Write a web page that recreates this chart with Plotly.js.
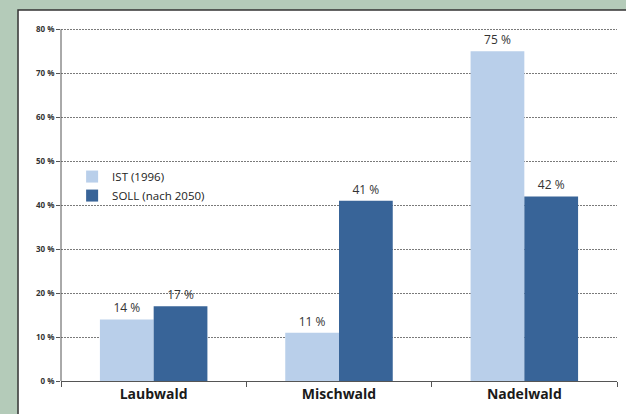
<!DOCTYPE html>
<html>
<head>
<meta charset="utf-8">
<script src="https://cdn.plot.ly/plotly-3.0.1.min.js"></script>
<style>html,body{margin:0;padding:0;background:#b4cbb9;}#chart{width:626px;height:414px;}</style>
</head>
<body>
<div id="chart"></div>
<script>
const categories = ["Laubwald", "Mischwald", "Nadelwald"];
const seriesNames = ["IST (1996)", "SOLL (nach 2050)"];
const istValues = [14, 11, 75];
const sollValues = [17, 41, 42];
const yTickValues = [0, 10, 20, 30, 40, 50, 60, 70, 80];
const yTickLabels = ["0 %", "10 %", "20 %", "30 %", "40 %", "50 %", "60 %", "70 %", "80 %"];

const FONT = "'Open Sans', 'Noto Sans', sans-serif";
const labelFont = {family: FONT, size: 12, color: "#333"};
const traces = [
  {type: "bar", name: seriesNames[0], x: categories, y: istValues,
   text: istValues.map(v => v + " %"), textposition: "outside", textfont: labelFont,
   marker: {color: "#b9cfea"}, cliponaxis: false, hoverinfo: "none"},
  {type: "bar", name: seriesNames[1], x: categories, y: sollValues,
   text: sollValues.map(v => v + " %"), textposition: "outside", textfont: labelFont,
   marker: {color: "#386498"}, cliponaxis: false, hoverinfo: "none"}
];

const yMax = yTickValues[yTickValues.length - 1];

const layout = {
  width: 626, height: 414,
  margin: {l: 61, r: 9, t: 25, b: 33},
  paper_bgcolor: "#b4cbb9",
  plot_bgcolor: "rgba(0,0,0,0)",
  barmode: "group",
  bargap: 0.42,
  bargroupgap: 0,
  showlegend: true,
  legend: {x: 0.02, y: 0.615, xanchor: "left", yanchor: "top", bgcolor: "rgba(0,0,0,0)",
           font: {family: FONT, size: 11.5, color: "#222"},
           tracegroupgap: 0, itemwidth: 30},
  font: {family: FONT},
  xaxis: {
    type: "category",
    tickson: "boundaries", ticks: "outside", ticklen: 5, tickcolor: "#555",
    showline: true, linecolor: "#555", linewidth: 1,
    showgrid: false,
    tickfont: {family: FONT, size: 14, color: "#1a1a1a", weight: "bold"},
    range: [-0.5, 2.5]
  },
  yaxis: {
    range: [0, 81],
    tickvals: yTickValues, ticktext: yTickLabels.map(t => "<b>" + t + "</b>"),
    ticks: "outside", ticklen: 4, tickcolor: "#555",
    showline: false,
    showgrid: true, gridcolor: "#7a7a7a", griddash: "2px,1px", gridwidth: 1,
    zeroline: false,
    tickfont: {family: FONT, size: 8, color: "#333"}
  },
  shapes: [
    {type: "rect", xref: "paper", yref: "paper", x0: -0.0773, x1: 1.2, y0: -0.3, y1: 1.042,
     fillcolor: "#ffffff", line: {color: "#333", width: 1.5}, layer: "below"},
    {type: "line", xref: "paper", yref: "y", x0: 0, x1: 0, y0: 0, y1: yMax,
     line: {color: "#555", width: 1}, layer: "above"}
  ]
};

Plotly.newPlot("chart", traces, layout, {displayModeBar: false, staticPlot: true});
</script>
</body>
</html>
